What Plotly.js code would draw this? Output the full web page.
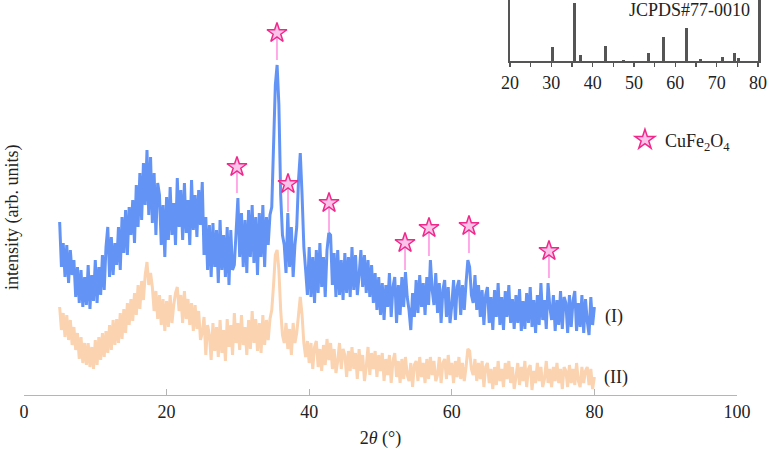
<!DOCTYPE html>
<html>
<head>
<meta charset="utf-8">
<script src="https://cdn.plot.ly/plotly-3.0.1.min.js"></script>
<style>html,body{margin:0;padding:0;background:#fff;}#chart{width:770px;height:454px;}</style>
</head>
<body>
<div id="chart"></div>
<script>
// 2-theta sampling (degrees)
const twoTheta = [
5,5.25,5.5,5.75,6,6.25,6.5,6.75,7,7.25,7.5,7.75,8,8.25,8.5,8.75,9,9.25,9.5,9.75,
10,10.25,10.5,10.75,11,11.25,11.5,11.75,12,12.25,12.5,12.75,13,13.25,13.5,13.75,14,14.25,14.5,14.75,
15,15.25,15.5,15.75,16,16.25,16.5,16.75,17,17.25,17.5,17.75,18,18.25,18.5,18.75,19,19.25,19.5,19.75,
20,20.25,20.5,20.75,21,21.25,21.5,21.75,22,22.25,22.5,22.75,23,23.25,23.5,23.75,24,24.25,24.5,24.75,
25,25.25,25.5,25.75,26,26.25,26.5,26.75,27,27.25,27.5,27.75,28,28.25,28.5,28.75,29,29.25,29.5,29.75,
30,30.25,30.5,30.75,31,31.25,31.5,31.75,32,32.25,32.5,32.75,33,33.25,33.5,33.75,34,34.25,34.5,34.75,
35,35.25,35.5,35.75,36,36.25,36.5,36.75,37,37.25,37.5,37.75,38,38.25,38.5,38.75,39,39.25,39.5,39.75,
40,40.25,40.5,40.75,41,41.25,41.5,41.75,42,42.25,42.5,42.75,43,43.25,43.5,43.75,44,44.25,44.5,44.75,
45,45.25,45.5,45.75,46,46.25,46.5,46.75,47,47.25,47.5,47.75,48,48.25,48.5,48.75,49,49.25,49.5,49.75,
50,50.25,50.5,50.75,51,51.25,51.5,51.75,52,52.25,52.5,52.75,53,53.25,53.5,53.75,54,54.25,54.5,54.75,
55,55.25,55.5,55.75,56,56.25,56.5,56.75,57,57.25,57.5,57.75,58,58.25,58.5,58.75,59,59.25,59.5,59.75,
60,60.25,60.5,60.75,61,61.25,61.5,61.75,62,62.25,62.5,62.75,63,63.25,63.5,63.75,64,64.25,64.5,64.75,
65,65.25,65.5,65.75,66,66.25,66.5,66.75,67,67.25,67.5,67.75,68,68.25,68.5,68.75,69,69.25,69.5,69.75,
70,70.25,70.5,70.75,71,71.25,71.5,71.75,72,72.25,72.5,72.75,73,73.25,73.5,73.75,74,74.25,74.5,74.75,
75,75.25,75.5,75.75,76,76.25,76.5,76.75,77,77.25,77.5,77.75,78,78.25,78.5,78.75,79,79.25,79.5,79.75,
80];

// Pattern (I), arbitrary units
const intensityI = [
173,128,152,118, 150,112,145,120, 135,98,128,92, 125,88,118,90, 130,86,120,94,
135,92,128,100, 140,105,148,168, 118,158,120,152, 130,168,125,178, 142,185,140,188,
160,195,152,210, 168,222,175,232, 190,245,180,238, 172,222,160,212, 200,150,190,138,
198,155,208,160, 192,150,217,168, 205,155,212,162, 195,150,215,165, 200,158,205,170,
213,140,178,125, 170,118,172,128, 165,112,175,125, 160,118,168,110, 165,125,130,172,
197,138,182,128, 175,122,185,138, 190,132,178,120, 182,138,190,128, 178,150,180,188,
250,310,330,290, 200,160,150,122, 182,128,168,118, 150,168,215,242, 200,148,125,100,
148,98,138,92, 145,102,152,108, 138,98,145,162, 160,110,142,98, 145,100,135,95,
142,102,138,98, 148,105,140,100, 120,145,108,140, 102,135,98,130, 92,122,85,118,
80,112,75,110, 88,122,78,108, 118,72,110,80, 118,88,123,98, 85,65,102,78,
115,82,120,88, 112,80,118,90, 135,105,90,122, 82,112,72,105, 115,78,108,72,
90,115,75,108, 115,80,110,85, 112,135,128,100, 92,120,85,110, 78,105,70,100,
108,72,98,65, 105,78,112,70, 98,65,104,78, 110,72,96,66, 100,72,106,64,
94,66,102,72, 108,68,95,62, 100,70,112,75, 95,66,112,88, 75,100,64,95,
70,104,66,98, 92,62,100,68, 94,104,64,92, 68,100,62,96, 74,60,98,70,
88];

// Pattern (II), arbitrary units
const intensityII = [
88,65,82,58, 80,55,75,50, 68,45,62,36, 58,32,52,30, 52,28,48,26,
55,30,58,35, 62,38,64,42, 70,45,75,50, 76,52,82,56, 86,62,92,70,
96,74,102,80, 110,86,114,95, 120,133,110,122, 108,84,104,76, 100,70,96,64,
94,68,100,72, 90,102,108,84, 100,72,104,76, 96,70,92,64, 90,66,84,55,
62,78,40,70, 60,35,72,44, 68,38,75,42, 65,34,76,48, 70,40,82,52,
72,45,80,50, 68,40,75,46, 84,52,76,44, 72,42,80,50, 75,55,76,85,
110,140,145,125, 85,60,52,72, 46,66,40,72, 52,62,80,98, 80,52,38,54,
32,52,26,48, 54,28,46,24, 50,30,56,35, 52,26,46,22, 34,52,26,46,
40,18,44,24, 48,26,42,16, 46,24,40,14, 28,48,20,42, 26,44,18,40,
24,42,14,36, 20,40,12,34, 42,18,34,12, 36,16,38,20, 14,32,8,30,
34,14,38,18, 32,12,36,16, 38,20,34,14, 20,38,12,32, 36,16,40,20,
32,12,34,18, 38,16,32,14, 28,46,44,26, 20,36,14,32, 16,34,8,28,
32,12,26,6, 28,10,34,14, 26,8,32,16, 34,12,28,6, 18,32,10,28,
14,34,8,26, 30,5,24,12, 32,14,28,8, 16,34,12,26, 8,28,14,32,
12,26,6,28, 24,8,30,12, 26,10,32,14, 8,28,12,24, 28,10,26,6,
18];

// CuFe2O4 peak markers
const starPos = [29.87, 35.48, 37.03, 42.78, 53.44, 56.80, 62.41, 73.63];
const starLevel = [228, 362, 211, 192, 152, 167, 169, 144];
const stemEnd = [202, 335, 183, 163, 125, 139, 142, 117];

// JCPDS#77-0010 reference lines (relative intensity)
const refPos = [30.2, 35.5, 37.1, 43.2, 47.4, 53.6, 57.2, 62.8, 66.0, 71.5, 74.3, 75.3];
const refInt = [24, 100, 10, 26, 2, 14, 41, 57, 4, 7, 14, 5];

const xTicks = [0, 20, 40, 60, 80, 100];
const insetTicks = [20, 30, 40, 50, 60, 70, 80];

const serif = "Liberation Serif";

const stemX = [], stemY = [];
starPos.forEach((p, i) => { stemX.push(p, p, null); stemY.push(starLevel[i], stemEnd[i], null); });

const traces = [
  {x: twoTheta, y: intensityII, type: 'scatter', mode: 'lines', line: {color: '#fbd3b0', width: 3}, showlegend: false, hoverinfo: 'skip'},
  {x: twoTheta, y: intensityI, type: 'scatter', mode: 'lines', line: {color: '#6394f5', width: 3}, showlegend: false, hoverinfo: 'skip'},
  {x: stemX, y: stemY, type: 'scatter', mode: 'lines', line: {color: '#ff8fe0', width: 1.5}, showlegend: false, hoverinfo: 'skip'},
  {x: starPos, y: starLevel, type: 'scatter', mode: 'markers', name: 'CuFe<sub>2</sub>O<sub>4</sub>',
   marker: {symbol: 'star', size: 15, color: '#fbc2ea', line: {color: '#f0288c', width: 1.5}}, showlegend: true},
  {x: refPos, y: refInt, type: 'bar', width: 0.7, marker: {color: '#555555'}, xaxis: 'x2', yaxis: 'y2', showlegend: false, hoverinfo: 'skip'}
];

const layout = {
  width: 770, height: 454,
  margin: {l: 24, r: 5, t: 0, b: 59},
  paper_bgcolor: '#ffffff', plot_bgcolor: 'rgba(0,0,0,0)',
  font: {family: serif, size: 18, color: '#222'},
  xaxis: {
    domain: [0, 0.9622], range: [0, 100], tickvals: xTicks,
    showgrid: false, zeroline: false, showline: true, linecolor: '#b5b5b5', linewidth: 1,
    ticks: 'inside', ticklen: 6, tickcolor: '#b5b5b5',
    tickfont: {family: serif, size: 18, color: '#222'},
    title: {text: '2<i>θ</i> (°)', font: {family: serif, size: 18, color: '#222'}, standoff: 10}
  },
  yaxis: {
    domain: [0, 1], range: [0, 395], showgrid: false, zeroline: false, showline: false,
    showticklabels: false, ticks: ''
  },
  xaxis2: {
    domain: [0.6559, 0.9906], range: [20, 80], anchor: 'y2', tickvals: insetTicks,
    showgrid: false, zeroline: false, showline: true, linecolor: '#555', linewidth: 2.5,
    ticks: 'outside', ticklen: 4, tickwidth: 1.5, tickcolor: '#555',
    minor: {dtick: 5, ticks: 'outside', ticklen: 4, tickwidth: 1.5, tickcolor: '#555'},
    tickfont: {family: serif, size: 18, color: '#222'}
  },
  yaxis2: {
    domain: [0.8456, 1], range: [0, 105], anchor: 'x2',
    showgrid: false, zeroline: false, showline: true, mirror: true, linecolor: '#555', linewidth: 2.5,
    showticklabels: false, ticks: ''
  },
  bargap: 0,
  showlegend: true,
  legend: {x: 0.811, y: 0.6456, xanchor: 'left', yanchor: 'middle', bgcolor: 'rgba(0,0,0,0)',
           font: {family: serif, size: 18, color: '#222'}},
  annotations: [
    {text: 'intensity (arb. units)', xref: 'paper', yref: 'paper', x: -0.0162, y: 0.4506,
     xanchor: 'center', yanchor: 'middle', textangle: -90, showarrow: false,
     font: {family: serif, size: 18, color: '#222'}},
    {text: '(I)', xref: 'x', yref: 'y', x: 82.75, y: 79, xanchor: 'center', yanchor: 'middle', showarrow: false,
     font: {family: serif, size: 18, color: '#222'}},
    {text: '(II)', xref: 'x', yref: 'y', x: 83.0, y: 18, xanchor: 'center', yanchor: 'middle', showarrow: false,
     font: {family: serif, size: 18, color: '#222'}},
    {text: 'JCPDS#77-0010', xref: 'x2', yref: 'y2', x: 63.5, y: 88, xanchor: 'center', yanchor: 'middle', showarrow: false,
     font: {family: serif, size: 18, color: '#222'}}
  ]
};

Plotly.newPlot('chart', traces, layout, {staticPlot: true, displayModeBar: false});
</script>
</body>
</html>
